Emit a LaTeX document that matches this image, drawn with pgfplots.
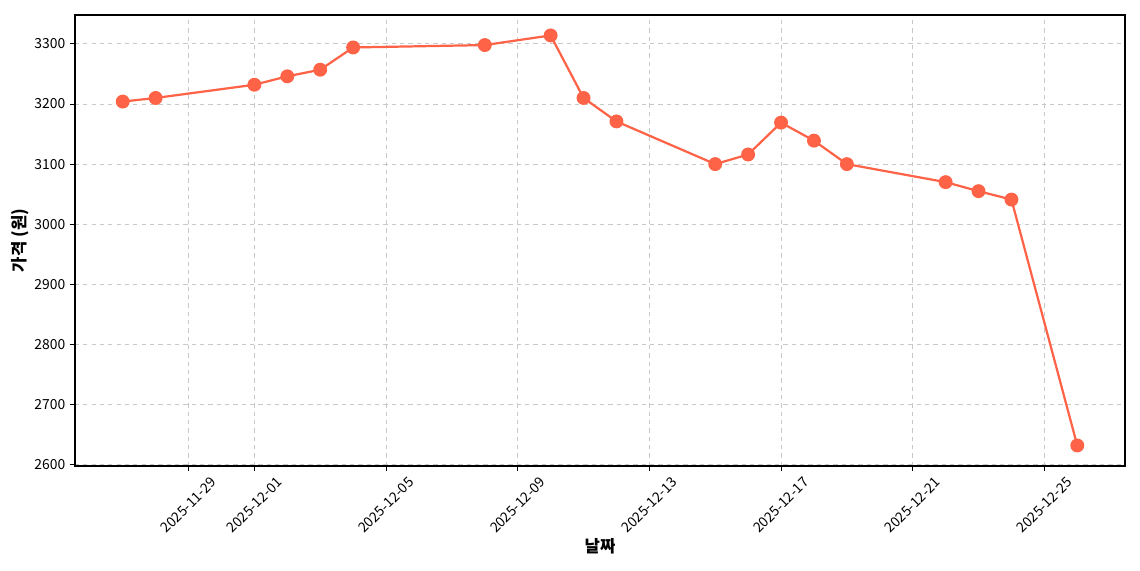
\documentclass[border=0pt]{standalone}
\usepackage{fontspec}
\setmainfont{Noto Sans CJK KR}
\usepackage{pgfplots}
\pgfplotsset{compat=1.18}
\definecolor{tomato}{HTML}{FF6347}
\definecolor{gridgray}{HTML}{C8C8C8}

\begin{document}
\begin{tikzpicture}
	\begin{axis}[
		at={(0,0)}, anchor=south west,
		scale only axis,
		width=756pt, height=324.7pt,
		xmin=-3.45, xmax=28.45,
		ymin=2597.9, ymax=3348,
		xtick={0,2,6,10,14,18,22,26},
		xticklabels={2025-11-29,2025-12-01,2025-12-05,2025-12-09,2025-12-13,2025-12-17,2025-12-21,2025-12-25},
		ytick={2600,2700,2800,2900,3000,3100,3200,3300},
		xtick pos=lower, ytick pos=left,
		/pgf/number format/assume math mode=true,
		yticklabel={\pgfmathprintnumber[fixed,precision=0,1000 sep={}]{\tick}},
		tick label style={font=\fontsize{10}{12}\selectfont},
		% shifts act in the rotated frame: (-17.5,-17.5) there is (0,-24.7) on the page
		xticklabel style={rotate=45, anchor=center, xshift=-17.5pt, yshift=-17.5pt},
		tick align=outside,
		major tick length=3.5pt,
		tick style={black, line width=0.6pt},
		axis line style={black, line width=0.8pt},
		grid=major,
		major grid style={gridgray, dashed, line width=0.6pt},
		xlabel={\textbf{날짜}},
		ylabel={\textbf{가격 (원)}},
		label style={font=\fontsize{12}{14}\selectfont},
		xlabel style={at={(axis description cs:0.5,0)}, anchor=center, yshift=-57.6pt},
		ylabel style={at={(axis description cs:0,0.5)}, anchor=center, xshift=0pt, yshift=39.6pt},
		clip=false,
		]

		% day 0 = 2025-11-29
		\addplot[tomato, line width=1.6pt, mark=*, mark size=4.2pt, mark options={fill=tomato, draw=tomato}] coordinates {
			(-2, 3204)
			(-1, 3210)
			(2, 3232)
			(3, 3246)
			(4, 3257)
			(5, 3294)
			(9, 3298)
			(11, 3314)
			(12, 3210)
			(13, 3171)
			(16, 3100)
			(17, 3116)
			(18, 3169)
			(19, 3139)
			(20, 3100)
			(23, 3070)
			(24, 3055)
			(25, 3041)
			(27, 2632)
		};

	\end{axis}
	\path[use as bounding box] (-54pt,-75pt) rectangle (766.8pt,335.5pt);
\end{tikzpicture}
\end{document}
